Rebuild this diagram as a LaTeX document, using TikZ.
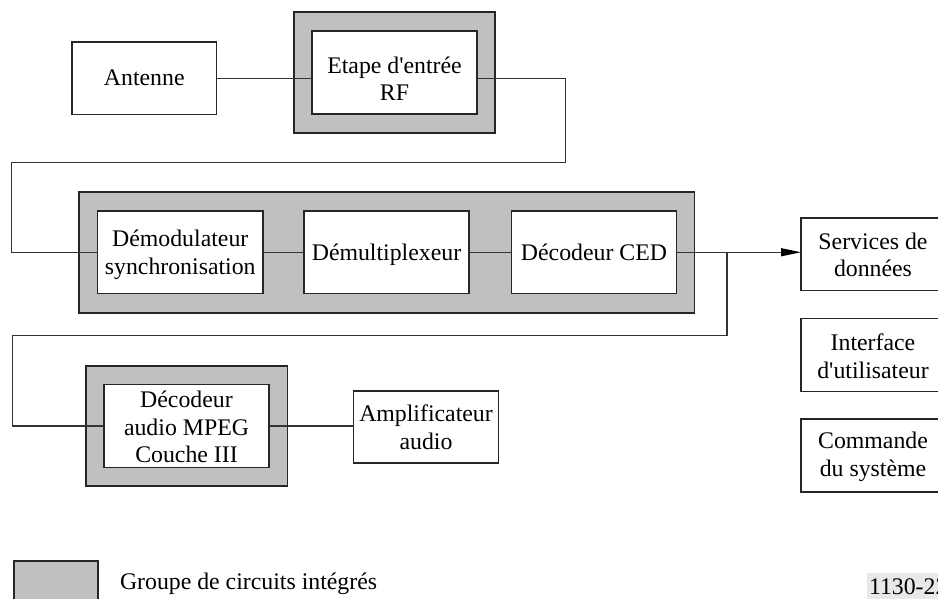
\documentclass[tikz,border=0pt]{standalone}
\usepackage{fontspec}
\setmainfont{Liberation Serif}
\usetikzlibrary{arrows.meta}
\definecolor{icgray}{HTML}{C0C0C0}
\definecolor{linegray}{HTML}{333333}
\tikzset{
  x=1pt,y=-1pt,
  every node/.style={font=\fontsize{23.8}{27.5}\selectfont,align=center,inner sep=0pt,outer sep=0pt},
  box/.style={draw=black!85,line width=1.2pt,fill=white,rectangle},
  group/.style={draw=black!85,line width=1.2pt,fill=icgray,rectangle},
  wire/.style={draw=linegray,line width=1.1pt},
  arrowwire/.style={wire,-{Triangle[length=20pt,width=8pt,black]}},
  nodepth/.style={text depth=0pt},
}
\begin{document}
\begin{tikzpicture}
\useasboundingbox (0,0) rectangle (938,599);
\clip (0,0) rectangle (938,599);
% label background
\fill[black!9] (867,573) rectangle (938,599);
% groups
\node[group,minimum width=201pt,minimum height=121pt] (gA) at (394.5,72.5) {};
\node[group,minimum width=615.5pt,minimum height=121pt] (gB) at (386.75,252.5) {};
\node[group,minimum width=201.5pt,minimum height=120pt] (gC) at (186.75,426) {};
\node[group,minimum width=84pt,minimum height=40pt] (gL) at (56,581) {};
% boxes
\node[box,minimum width=144.5pt,minimum height=72.5pt] (ant) at (144.25,78.25) {Antenne};
\node[box,minimum width=165pt,minimum height=83pt] (etape) at (394.5,72.5) {};
\node (etapetxt) at (394.5,78.5) {Etape d\textquotesingle entrée\\RF};
\node[box,nodepth,minimum width=165.5pt,minimum height=82.5pt] (demod) at (180.25,252.25) {Démodulateur\\synchronisation};
\node[box,nodepth,minimum width=165pt,minimum height=82.5pt] (demux) at (386.5,252.25) {Démultiplexeur};
\node[box,minimum width=165pt,minimum height=82.5pt] (ced) at (594,252.25) {Décodeur CED};
\node[box,minimum width=165pt,minimum height=83pt] (dec) at (186.5,426) {};
\node (dectxt) at (186.5,427) {Décodeur\\audio MPEG\\Couche III};
\node[box,minimum width=145pt,minimum height=72pt] (amp) at (426,427) {Amplificateur\\audio};
\node[box,minimum width=160pt,minimum height=72.5pt,anchor=west] (serv) at (801,254.25) {};
\node (servtxt) at (873,254.75) {Services de\\données};
\node[box,minimum width=160pt,minimum height=72.5pt,anchor=west] (intf) at (801,355) {};
\node (intftxt) at (873,356) {Interface\\d\textquotesingle utilisateur};
\node[box,minimum width=160pt,minimum height=73pt,anchor=west] (cmd) at (801,455.5) {};
\node (cmdtxt) at (873,457) {Commande\\du système};
% legend and reference
\node[anchor=base west] (legend) at (120,589) {Groupe de circuits intégrés};
\node[anchor=base west] (ref) at (869,594) {1130-22};
% junction and bends
\coordinate (bendA) at (565.5,162.5);
\coordinate (bendB) at (11.5,162.5);
\coordinate (junc) at (727,252.25);
\coordinate (bendC) at (727,335.5);
\coordinate (bendD) at (12.5,335.5);
% connectors
\draw[wire] (ant.east) -- (ant.east -| etape.west);
\draw[wire] (ant.east -| etape.east) -| (bendA) -- (bendB) |- (demod.west);
\draw[wire] (demod.east) -- (demux.west);
\draw[wire] (demux.east) -- (ced.west);
\draw[arrowwire] (ced.east) -- (ced.east -| serv.west);
\draw[wire] (junc) -- (bendC) -- (bendD) |- (dec.west);
\draw[wire] (dec.east) -- (dec.east -| amp.west);
\end{tikzpicture}
\end{document}
